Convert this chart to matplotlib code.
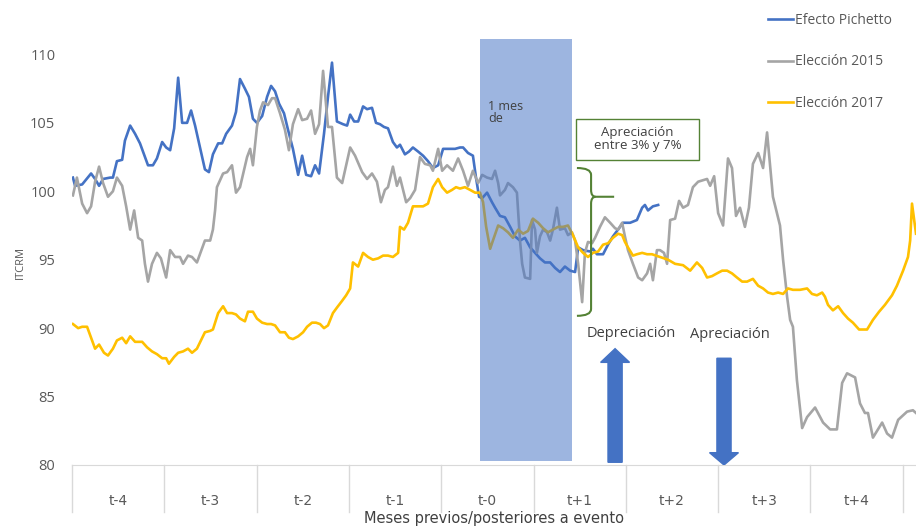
import matplotlib
import matplotlib.pyplot as plt
from matplotlib.patches import FancyArrow, PathPatch, Rectangle
from matplotlib.path import Path

matplotlib.use("Agg")

plt.rcParams["font.family"] = ["Open Sans", "DejaVu Sans"]

# Días desde el inicio de la ventana (un mes = 30 días) y valor del ITCRM
pichetto_dias = [
    0.3, 1.0, 3.3, 6.2, 7.5, 8.8, 10.1, 12.4, 13.3, 14.6, 16.3, 17.2, 18.9, 20.5, 22.1,
    24.7, 26.3, 27.6, 29.3, 30.6, 31.9, 33.2, 34.5, 35.8, 37.4, 38.7, 40.0, 41.6, 43.2,
    44.5, 45.8, 47.5, 48.8, 50.1, 52.0, 53.3, 54.6, 56.2, 57.5, 58.8, 60.1, 61.8, 63.4,
    64.7, 66.0, 67.3, 68.9, 70.2, 71.8, 73.5, 74.8, 76.1, 77.7, 79.0, 80.3, 81.9, 83.2,
    84.5, 86.1, 88.1, 89.4, 90.4, 91.7, 93.0, 94.6, 95.9, 97.5, 98.8, 100.1, 101.4,
    102.7, 104.3, 105.6, 106.6, 108.2, 109.5, 110.8, 112.5, 114.1, 115.7, 117.3, 119.0,
    120.6, 122.2, 124.5, 126.1, 127.1, 128.7, 130.3, 131.3, 132.3, 133.3, 134.9, 136.5,
    137.5, 139.1, 140.7, 142.4, 144.0, 145.6, 147.2, 148.9, 150.5, 152.1, 153.7, 155.4,
    157.0, 158.6, 160.2, 161.9, 163.5, 164.5, 166.1, 168.4, 169.3, 170.6, 172.6, 174.2,
    175.8, 178.1, 179.1, 181.4, 183.6, 185.3, 186.2, 187.2, 188.8, 190.5,
]
pichetto_itcrm = [
    101.0, 100.4, 100.5, 101.3, 100.9, 100.4, 100.9, 101.0, 101.0, 102.2, 102.3, 103.7,
    104.8, 104.2, 103.5, 101.9, 101.9, 102.4, 103.6, 103.2, 103.0, 104.6, 108.3, 105.0,
    105.0, 105.9, 104.8, 103.2, 101.6, 101.4, 102.7, 103.5, 103.5, 104.2, 104.8, 105.8,
    108.2, 107.5, 106.9, 105.3, 105.0, 105.5, 106.9, 107.7, 107.3, 106.4, 105.7, 104.5,
    103.1, 101.2, 102.6, 101.2, 101.1, 101.9, 101.3, 104.2, 106.9, 109.4, 105.1, 104.9,
    104.8, 105.6, 105.1, 105.1, 106.2, 106.0, 106.1, 105.0, 104.9, 104.7, 104.6, 103.6,
    103.2, 103.4, 102.7, 102.9, 103.2, 102.9, 102.6, 102.2, 101.7, 101.9, 103.1, 103.1,
    103.1, 103.2, 103.2, 102.8, 102.6, 101.0, 99.6, 99.5, 99.9, 99.2, 98.8, 98.2, 98.1,
    97.4, 96.7, 96.4, 96.6, 95.9, 95.5, 95.1, 94.8, 94.8, 94.4, 94.1, 94.5, 94.2, 94.1,
    95.9, 95.7, 95.6, 95.8, 95.4, 95.4, 96.1, 96.7, 97.4, 97.7, 97.7, 97.9, 98.8, 99.0,
    98.6, 98.9, 99.0,
]

eleccion2015_dias = [
    0.3, 1.6, 3.3, 4.9, 6.2, 7.5, 8.8, 10.1, 11.7, 13.3, 14.6, 16.3, 17.6, 18.9, 20.2,
    21.5, 22.8, 23.7, 24.7, 26.0, 27.6, 28.9, 30.6, 31.9, 33.5, 35.1, 36.1, 37.7, 39.0,
    40.6, 41.9, 43.2, 44.9, 45.8, 46.5, 47.1, 49.1, 50.4, 52.0, 53.3, 54.6, 56.9, 57.9,
    58.8, 60.1, 61.1, 62.1, 63.7, 65.0, 66.0, 67.6, 69.2, 70.5, 71.8, 73.5, 74.8, 76.4,
    77.7, 79.0, 80.3, 81.6, 83.2, 84.5, 86.1, 87.8, 90.4, 92.0, 94.3, 95.9, 97.5, 99.1,
    100.4, 101.7, 102.7, 104.3, 105.6, 106.6, 108.6, 109.9, 111.5, 113.1, 114.7, 116.4,
    117.3, 119.0, 120.3, 121.9, 123.8, 125.5, 127.1, 128.7, 130.3, 132.0, 133.3, 134.9,
    136.5, 137.5, 138.5, 139.1, 140.7, 141.7, 143.3, 144.6, 145.6, 146.3, 147.2, 148.9,
    149.5, 150.5, 151.1, 152.1, 153.1, 154.4, 155.4, 156.3, 157.6, 158.6, 160.2, 161.2,
    162.5, 163.5, 164.5, 165.8, 166.7, 167.7, 169.0, 170.0, 171.6, 173.2, 174.9, 176.5,
    177.5, 178.8, 179.7, 180.7, 182.3, 184.0, 185.3, 186.9, 187.9, 188.8, 190.1, 191.1,
    192.4, 193.4, 194.4, 196.0, 197.3, 198.6, 200.2, 201.8, 203.5, 206.4, 207.4, 208.7,
    210.0, 211.6, 213.2, 214.5, 215.8, 217.1, 218.7, 220.0, 221.3, 223.0, 224.6, 225.9,
    226.9, 227.8, 229.1, 230.1, 231.1, 232.4, 233.4, 234.3, 235.6, 237.3, 238.9, 241.5,
    244.1, 246.4, 248.6, 250.3, 251.9, 254.5, 256.1, 257.7, 258.7, 260.3, 263.3, 264.9,
    266.5, 268.5, 271.4, 273.3, 274.3,
]
eleccion2015_itcrm = [
    99.7, 101.0, 99.1, 98.4, 98.9, 100.7, 101.8, 100.6, 99.6, 100.0, 101.0, 100.4, 98.9,
    97.2, 98.6, 96.6, 96.4, 94.7, 93.4, 94.7, 95.5, 95.1, 93.7, 95.7, 95.2, 95.2, 94.7,
    95.3, 95.2, 94.8, 95.6, 96.4, 96.4, 97.2, 98.6, 100.3, 101.3, 101.4, 101.9, 99.9,
    100.3, 102.5, 103.1, 101.9, 104.7, 105.9, 106.5, 106.3, 106.8, 106.8, 105.7, 104.5,
    103.0, 104.9, 106.0, 105.2, 105.3, 105.9, 104.2, 104.9, 108.8, 104.7, 104.7, 101.0,
    100.6, 103.2, 102.6, 101.4, 100.9, 101.3, 100.7, 99.2, 100.1, 100.3, 101.8, 100.4,
    101.0, 99.2, 99.5, 100.1, 102.5, 102.0, 101.9, 101.5, 103.1, 101.5, 101.9, 101.5,
    102.4, 101.5, 100.4, 101.5, 100.6, 101.2, 101.0, 100.9, 101.5, 100.6, 99.7, 100.1,
    100.6, 100.3, 99.9, 96.4, 94.7, 93.7, 93.6, 97.9, 97.2, 95.5, 96.7, 97.2, 97.0, 96.4,
    97.2, 98.8, 97.2, 97.3, 96.8, 97.0, 96.4, 94.7, 91.9, 95.5, 96.3, 96.2, 96.6, 97.4,
    98.1, 97.7, 97.3, 97.2, 97.7, 96.7, 95.7, 94.7, 93.7, 93.5, 94.0, 94.7, 93.5, 95.7,
    95.7, 95.5, 94.7, 97.9, 98.0, 99.3, 98.8, 99.0, 100.3, 100.7, 100.9, 100.4, 101.1,
    98.4, 97.5, 102.4, 101.7, 98.2, 98.8, 97.4, 98.8, 102.0, 102.8, 101.7, 104.3, 101.8,
    99.6, 98.4, 97.5, 95.0, 92.3, 90.6, 90.1, 86.2, 82.7, 83.5, 84.2, 83.1, 82.6, 82.6,
    86.0, 86.7, 86.4, 84.5, 83.8, 83.8, 82.0, 83.1, 82.3, 82.0, 83.3, 83.9, 84.0, 83.8,
]

eleccion2017_dias = [
    0.3, 2.0, 3.3, 4.9, 6.2, 7.5, 8.8, 10.4, 11.7, 13.3, 14.6, 16.3, 17.6, 18.9, 20.5,
    22.8, 24.4, 26.0, 27.6, 29.3, 30.6, 31.5, 33.2, 34.5, 36.1, 37.7, 39.0, 40.6, 41.9,
    43.2, 44.9, 45.8, 47.5, 49.1, 50.4, 52.0, 53.3, 54.6, 56.2, 57.2, 58.8, 60.1, 61.8,
    63.4, 64.7, 66.0, 67.6, 69.2, 70.5, 71.8, 73.5, 75.1, 76.4, 78.0, 79.3, 80.6, 81.9,
    83.2, 84.8, 86.1, 87.8, 89.1, 90.4, 91.3, 93.0, 94.6, 96.2, 97.8, 99.5, 101.1, 102.7,
    104.3, 106.0, 106.6, 107.9, 109.2, 110.8, 112.5, 114.1, 115.7, 117.3, 119.0, 120.3,
    121.9, 123.5, 124.8, 126.1, 127.7, 129.4, 131.0, 132.6, 133.6, 134.6, 135.9, 136.8,
    138.5, 140.1, 141.7, 143.3, 145.0, 146.6, 148.2, 149.8, 151.5, 153.1, 154.7, 156.3,
    158.0, 159.6, 161.2, 162.8, 164.5, 166.1, 167.7, 169.3, 171.0, 172.6, 174.2, 175.8,
    177.5, 178.8, 179.7, 180.7, 182.3, 183.6, 185.3, 186.9, 188.5, 191.1, 193.7, 196.0,
    198.6, 200.9, 203.1, 204.8, 206.4, 208.0, 209.6, 211.3, 212.9, 214.5, 216.1, 217.8,
    219.4, 221.3, 223.0, 224.6, 226.2, 227.8, 229.5, 231.1, 232.7, 234.3, 236.6, 238.9,
    240.5, 242.1, 243.8, 244.7, 245.7, 247.3, 249.0, 250.6, 252.2, 253.8, 255.8, 258.4,
    260.3, 262.3, 264.2, 266.5, 268.1, 270.1, 271.7, 272.4, 273.0, 274.3,
]
eleccion2017_itcrm = [
    90.3, 90.0, 90.1, 90.1, 89.3, 88.5, 88.8, 88.2, 88.0, 88.5, 89.1, 89.3, 88.9, 89.4,
    89.0, 89.0, 88.6, 88.3, 88.1, 87.8, 87.8, 87.4, 87.9, 88.2, 88.3, 88.5, 88.2, 88.5,
    89.1, 89.7, 89.8, 89.9, 91.1, 91.6, 91.1, 91.1, 91.0, 90.7, 90.5, 91.2, 91.2, 90.7,
    90.4, 90.3, 90.3, 90.2, 89.7, 89.7, 89.3, 89.2, 89.4, 89.7, 90.1, 90.4, 90.4, 90.3,
    90.0, 90.2, 91.1, 91.5, 92.0, 92.4, 92.9, 94.8, 94.5, 95.5, 95.2, 95.0, 95.1, 95.3,
    95.3, 95.2, 95.5, 97.4, 97.2, 97.7, 98.9, 98.9, 98.9, 99.1, 100.3, 100.9, 100.3,
    99.9, 100.1, 100.3, 100.2, 100.3, 100.1, 99.9, 99.9, 99.2, 97.4, 95.8, 96.4, 97.5,
    97.3, 97.0, 96.6, 97.2, 96.9, 97.1, 98.0, 97.7, 97.3, 97.0, 97.2, 97.4, 97.4, 97.5,
    96.8, 95.9, 95.5, 95.2, 95.5, 95.6, 96.1, 96.2, 96.6, 96.9, 96.8, 96.3, 95.9, 95.3,
    95.4, 95.5, 95.4, 95.4, 95.2, 95.0, 94.7, 94.6, 94.2, 94.8, 94.4, 93.7, 93.8, 94.0,
    94.2, 94.2, 94.0, 93.7, 93.4, 93.4, 93.6, 93.1, 92.9, 92.6, 92.5, 92.6, 92.5, 92.9,
    92.8, 92.8, 92.9, 92.5, 92.4, 92.6, 92.3, 91.7, 91.3, 91.6, 91.1, 90.7, 90.4, 89.9,
    89.9, 90.6, 91.2, 91.7, 92.4, 93.1, 94.2, 95.2, 96.4, 99.1, 96.9,
]

meses = ["t-4", "t-3", "t-2", "t-1", "t-0", "t+1", "t+2", "t+3", "t+4"]
dias_por_mes = 30

# Ventana sombreada "1 mes de" y anotaciones
ventana_dias = (132.6, 162.5)
rango_apreciacion = (90.9, 101.7)

AZUL = "#4472C4"
GRIS = "#A5A5A5"
AMARILLO = "#FFC000"
VERDE = "#548235"
TEXTO = "#595959"

fig = plt.figure(figsize=(9.16, 5.27), dpi=100)
ax = fig.add_axes([72 / 916, 62 / 527, 844 / 916, 427 / 527])

ax.plot(pichetto_dias, pichetto_itcrm, color=AZUL, lw=1.9, label="Efecto Pichetto", zorder=3)
ax.plot(eleccion2015_dias, eleccion2015_itcrm, color=GRIS, lw=1.9, label="Elección 2015", zorder=3)
ax.plot(eleccion2017_dias, eleccion2017_itcrm, color=AMARILLO, lw=1.9, label="Elección 2017", zorder=3)

ax.set_xlim(0, 274.3)
ax.set_ylim(80, 111.2)

# Sombreado semitransparente sobre las series
ax.add_patch(Rectangle((ventana_dias[0], 80.3), ventana_dias[1] - ventana_dias[0], 111.1 - 80.3,
                       facecolor=AZUL, alpha=0.52, edgecolor="none", zorder=4))
ax.text(135.2, 106.7, "1 mes\nde", fontsize=9, color="#404040", va="top", ha="left",
        linespacing=0.95, zorder=5)

# Recuadro de apreciación
ax.add_patch(Rectangle((163.8, 102.3), 40.0, 3.0, facecolor="white", edgecolor=VERDE,
                       lw=1.0, zorder=5))
ax.text(183.8, 103.8, "Apreciación\nentre 3% y 7%", fontsize=9.5, color="#404040",
        ha="center", va="center", linespacing=1.0, zorder=6)

# Llave que marca el rango de apreciación
bajo, alto = rango_apreciacion
xl, xv, xp = 164.1, 168.7, 176.2
punta = 99.6
llave_sup = Path(
    [(xl, alto), (xv, alto), (xv, alto - 0.5), (xv, punta + 0.5), (xv, punta), (xv + 1.5, punta), (xp, punta)],
    [Path.MOVETO, Path.CURVE3, Path.CURVE3, Path.LINETO, Path.CURVE3, Path.CURVE3, Path.LINETO],
)
llave_inf = Path(
    [(xv + 1.5, punta), (xv, punta), (xv, punta - 0.5), (xv, bajo + 0.5), (xv, bajo), (xl, bajo)],
    [Path.MOVETO, Path.CURVE3, Path.CURVE3, Path.LINETO, Path.CURVE3, Path.CURVE3],
)
for p in (llave_sup, llave_inf):
    ax.add_patch(PathPatch(p, facecolor="none", edgecolor=VERDE, lw=1.5, zorder=5))

# Flechas de depreciación / apreciación
ax.add_patch(FancyArrow(176.5, 80.2, 0, 8.3, width=4.6, head_width=9.4, head_length=1.0,
                        length_includes_head=True, color=AZUL, zorder=5))
ax.add_patch(FancyArrow(211.9, 87.8, 0, -7.8, width=4.6, head_width=9.4, head_length=0.9,
                        length_includes_head=True, color=AZUL, zorder=5))
ax.text(181.7, 89.6, "Depreciación", fontsize=10.5, color="#404040", ha="center", va="center")
ax.text(213.9, 89.5, "Apreciación", fontsize=10.5, color="#404040", ha="center", va="center")

# Ejes
for s in ("top", "right", "left"):
    ax.spines[s].set_visible(False)
ax.spines["bottom"].set_color("#D9D9D9")
ax.set_yticks(range(80, 111, 5))
ax.tick_params(axis="y", length=0, pad=12, labelsize=10.5, labelcolor=TEXTO)

centros = [dias_por_mes * i + dias_por_mes / 2 for i in range(len(meses))]
ax.set_xticks(centros)
ax.set_xticklabels(meses, family=["Liberation Sans Narrow", "DejaVu Sans"])
ax.tick_params(axis="x", length=0, pad=21, labelsize=10, labelcolor=TEXTO)
for i in range(len(meses) + 1):
    ax.plot([dias_por_mes * i] * 2, [0, -0.11], transform=ax.get_xaxis_transform(),
            color="#D9D9D9", lw=1.0, clip_on=False)

ax.set_xlabel("Meses previos/posteriores a evento", fontsize=10.5, color="#404040",
              family=["Liberation Sans Narrow", "DejaVu Sans"], labelpad=2)
fig.text(20 / 916, 1 - 262 / 527, "ITCRM", rotation=90, fontsize=8, color=TEXTO,
         ha="center", va="center")

ax.legend(loc="upper left", bbox_to_anchor=(768 / 916, 1 - 13 / 527), bbox_transform=fig.transFigure,
          frameon=False, fontsize=10, labelcolor=TEXTO, handlelength=1.8, handletextpad=0.15,
          labelspacing=1.9, borderpad=0, borderaxespad=0)

fig.savefig("out.png", dpi=100, facecolor="white")
